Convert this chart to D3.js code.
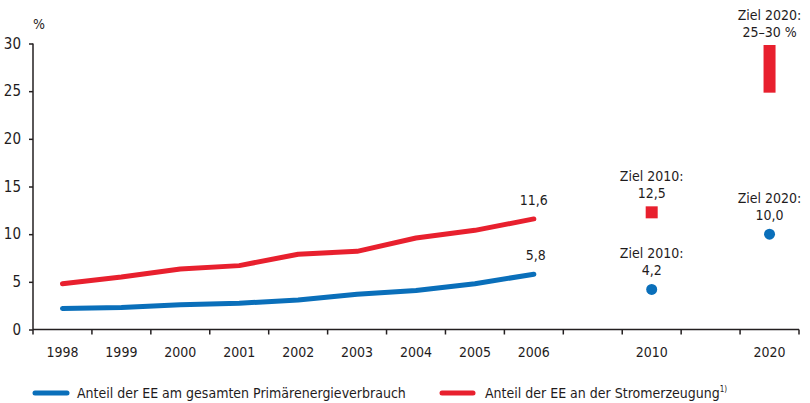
<!DOCTYPE html>
<html>
<head>
<meta charset="utf-8">
<script src="https://cdn.jsdelivr.net/npm/d3@7"></script>
<style>
  body { margin: 0; background: #fff; }
  svg text { font-family: "DejaVu Sans Condensed", "DejaVu Sans", sans-serif; fill: #1f1c1d; }
</style>
</head>
<body>
<svg id="chart"></svg>
<script>
const WIDTH = 810
const HEIGHT = 403

// categories on the x axis ("gap" slots are empty)
const slots = ["1998", "1999", "2000", "2001", "2002", "2003", "2004", "2005", "2006", "gap1", "2010", "gap2", "2020"]
const years = ["1998", "1999", "2000", "2001", "2002", "2003", "2004", "2005", "2006"]
const primaer = [2.2, 2.3, 2.6, 2.75, 3.1, 3.7, 4.1, 4.8, 5.8]
const strom = [4.8, 5.5, 6.35, 6.7, 7.9, 8.2, 9.6, 10.4, 11.6]
const yTicks = [0, 5, 10, 15, 20, 25, 30]

// targets
const blueTargets = [
  { year: "2010", value: 4.2, lines: ["Ziel 2010:", "4,2"] },
  { year: "2020", value: 10.0, lines: ["Ziel 2020:", "10,0"] }
]
const redTarget2010 = { year: "2010", value: 12.5, lines: ["Ziel 2010:", "12,5"] }
const redTarget2020 = { year: "2020", low: 25, high: 30, lines: ["Ziel 2020:", "25–30 %"] }

const BLUE = "#0a6fba"
const RED = "#e8202e"
const FS = "14px"

const svg = d3.select("#chart").attr("width", WIDTH).attr("height", HEIGHT)

let x = d3.scaleBand().domain(slots).range([33, 799])
let cx = d => x(d) + x.bandwidth() / 2
let y = d3.scaleLinear().domain([0, 30]).range([329.5, 43.5])

// y axis
let yAxis = d3.axisLeft(y).tickValues(yTicks).tickSize(4).tickPadding(8)
let gy = svg.append("g").attr("transform", "translate(33,0)").call(yAxis)
gy.select(".domain").attr("stroke", "#231f20").attr("stroke-width", 1.5).attr("d", "M0,43.5V329.5")
gy.selectAll(".tick line").attr("stroke", "#231f20").attr("stroke-width", 1.5)
gy.selectAll(".tick text").style("font-size", "15px").style("font-family", "DejaVu Sans Condensed")

svg.append("text").attr("x", 33).attr("y", 29).style("font-size", FS).text("%")

// x axis with ticks at band edges
let gx = svg.append("g").attr("transform", "translate(0,329.5)")
gx.append("line").attr("x1", 33).attr("x2", 799).attr("stroke", "#231f20").attr("stroke-width", 1.5)
let edges = slots.map(s => x(s)).concat([x.range()[1]])
gx.selectAll("line.tk").data(edges).enter().append("line")
  .attr("class", "tk")
  .attr("x1", d => d).attr("x2", d => d).attr("y1", 0).attr("y2", 5)
  .attr("stroke", "#231f20").attr("stroke-width", 1.5)
gx.selectAll("text").data(slots.filter(s => !s.startsWith("gap"))).enter().append("text")
  .attr("x", d => cx(d)).attr("y", 27)
  .attr("text-anchor", "middle")
  .style("font-size", FS)
  .text(d => d)

// lines
let line = d3.line()
  .x((d, i) => cx(years[i]))
  .y(d => y(d))

svg.append("path").datum(strom).attr("d", line)
  .attr("fill", "none").attr("stroke", RED).attr("stroke-width", 5)
  .attr("stroke-linecap", "round").attr("stroke-linejoin", "round")
svg.append("path").datum(primaer).attr("d", line)
  .attr("fill", "none").attr("stroke", BLUE).attr("stroke-width", 5)
  .attr("stroke-linecap", "round").attr("stroke-linejoin", "round")

// end labels
let last = years.length - 1
svg.append("text").attr("x", cx(years[last])).attr("y", y(strom[last]) - 14)
  .attr("text-anchor", "middle").style("font-size", FS).text("11,6")
svg.append("text").attr("x", cx(years[last]) + 2).attr("y", y(primaer[last]) - 14)
  .attr("text-anchor", "middle").style("font-size", FS).text("5,8")

function twoLines(xc, yBottom, lines) {
  let t = svg.append("text").attr("text-anchor", "middle").style("font-size", FS)
  lines.forEach((l, i) => {
    t.append("tspan").attr("x", xc).attr("y", yBottom - (lines.length - 1 - i) * 17).text(l)
  })
}

// blue targets
svg.selectAll("circle.target").data(blueTargets).enter().append("circle")
  .attr("class", "target")
  .attr("cx", d => cx(d.year)).attr("cy", d => y(d.value)).attr("r", 5.5)
  .attr("fill", BLUE)
blueTargets.forEach(d => twoLines(cx(d.year), y(d.value) - 14, d.lines))

// red targets
svg.append("rect")
  .attr("x", cx(redTarget2010.year) - 6).attr("y", y(redTarget2010.value) - 4)
  .attr("width", 12).attr("height", 12).attr("fill", RED)
twoLines(cx(redTarget2010.year), y(redTarget2010.value) - 12, redTarget2010.lines)

svg.append("rect")
  .attr("x", cx(redTarget2020.year) - 6).attr("y", y(redTarget2020.high) + 1.5)
  .attr("width", 12).attr("height", y(redTarget2020.low) - y(redTarget2020.high))
  .attr("fill", RED)
twoLines(cx(redTarget2020.year), 37, redTarget2020.lines)

// legend
let legend = svg.append("g")
legend.append("line").attr("x1", 35).attr("x2", 67).attr("y1", 393).attr("y2", 393)
  .attr("stroke", BLUE).attr("stroke-width", 5).attr("stroke-linecap", "round")
legend.append("text").attr("x", 77).attr("y", 398).style("font-size", FS)
  .text("Anteil der EE am gesamten Primärenergieverbrauch")
legend.append("line").attr("x1", 442).attr("x2", 473).attr("y1", 393).attr("y2", 393)
  .attr("stroke", RED).attr("stroke-width", 5).attr("stroke-linecap", "round")
let lt = legend.append("text").attr("x", 485).attr("y", 398).style("font-size", FS)
lt.append("tspan").text("Anteil der EE an der Stromerzeugung")
lt.append("tspan").attr("dy", -6).style("font-size", "8px").text("1)")
</script>
</body>
</html>
